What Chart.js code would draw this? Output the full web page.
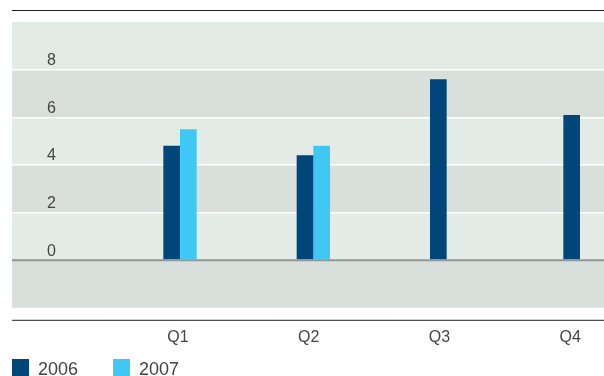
<!DOCTYPE html>
<html>
<head>
<meta charset="utf-8">
<script src="https://cdn.jsdelivr.net/npm/chart.js@4.4.1/dist/chart.umd.min.js"></script>
<style>
  body { margin: 0; background: #fff; font-family: 'Liberation Sans', Arial, sans-serif; }
  #wrap { position: relative; width: 604px; height: 376px; }
  #chart { display: block; }
  #legend { position: absolute; left: 12px; top: 359px; display: flex; }
  .item { display: flex; align-items: flex-start; width: 101px; }
  .swatch { width: 17px; height: 17px; }
  .label { margin-left: 9px; font-size: 18px; line-height: 17px; color: #444; position: relative; top: 2px; }
</style>
</head>
<body>
<div id="wrap">
  <canvas id="chart" width="604" height="376"></canvas>
  <div id="legend"></div>
</div>
<script>
// quarterly values per year
const quarters = ['Q1', 'Q2', 'Q3', 'Q4'];
const years = ['2006', '2007'];
const values2006 = [4.8, 4.4, 7.6, 6.1];
const values2007 = [5.5, 4.8, null, null];
const yTicks = [0, 2, 4, 6, 8];

const colors = ['#00467a', '#40c8f4'];
const LIGHT_BAND = '#e3ebe7';
const DARK_BAND = '#d9dfdb';
const TEXT = '#444';

const Y_MIN = -2, Y_MAX = 10, Y_STEP = 2;

Chart.defaults.font.family = "'Liberation Sans', Arial, sans-serif";
Chart.defaults.color = TEXT;

const toPoints = vals => vals.map((v, i) => ({ x: i + 1, y: v }));
const quarterTicks = scale => {
    scale.ticks = quarters.map((q, i) => ({ value: i + 1 }));
};

// striped background + rules above/below the plot
const backdrop = {
    id: 'backdrop',
    beforeDraw(chart) {
        const { ctx, chartArea: { left, right, top, bottom }, scales: { y } } = chart;
        ctx.save();
        for (let v = Y_MIN, i = 0; v < Y_MAX; v += Y_STEP, i++) {
            const y0 = y.getPixelForValue(v + Y_STEP);
            const y1 = y.getPixelForValue(v);
            ctx.fillStyle = i % 2 === 0 ? DARK_BAND : LIGHT_BAND;
            ctx.fillRect(left, y0, right - left, y1 - y0);
        }
        ctx.strokeStyle = '#222';
        ctx.lineWidth = 1;
        ctx.beginPath();
        ctx.moveTo(left, top - 11.5); ctx.lineTo(right, top - 11.5);
        ctx.moveTo(left, bottom + 12.5); ctx.lineTo(right, bottom + 12.5);
        ctx.stroke();
        ctx.restore();
    },
    afterDatasetsDraw(chart) {
        // zero line sits on top of the bars
        const { ctx, chartArea: { left, right }, scales: { y } } = chart;
        const py = y.getPixelForValue(0);
        ctx.save();
        ctx.strokeStyle = '#939796';
        ctx.lineWidth = 2;
        ctx.beginPath();
        ctx.moveTo(left, py); ctx.lineTo(right, py);
        ctx.stroke();
        ctx.restore();
    }
};

new Chart(document.getElementById('chart'), {
    type: 'bar',
    data: {
        datasets: [
            { label: years[0], data: toPoints(values2006), backgroundColor: colors[0], xAxisID: 'x', yAxisID: 'y' },
            { label: years[1], data: toPoints(values2007), backgroundColor: colors[1], xAxisID: 'x', yAxisID: 'y' }
        ]
    },
    options: {
        responsive: false,
        animation: false,
        layout: { padding: { top: 22, left: 0, right: 0, bottom: 9 } },
        datasets: {
            bar: { barPercentage: 1, categoryPercentage: 0.25, borderWidth: 0 }
        },
        plugins: {
            legend: { display: false },
            tooltip: { enabled: false }
        },
        scales: {
            // positions the bars
            x: {
                type: 'linear',
                display: false,
                offset: false,
                min: -0.26,
                max: 4.18,
                afterBuildTicks: quarterTicks
            },
            // quarter labels under the plot
            xq: {
                type: 'linear',
                position: 'bottom',
                offset: false,
                min: -0.268,
                max: 4.258,
                afterBuildTicks: quarterTicks,
                grid: { display: false, drawTicks: false, offset: false },
                border: { display: false },
                ticks: {
                    autoSkip: false,
                    maxRotation: 0,
                    padding: 20,
                    color: TEXT,
                    font: { size: 16 },
                    callback: (v, i) => quarters[i]
                }
            },
            y: {
                min: Y_MIN,
                max: Y_MAX,
                afterFit: scale => {
                    // labels sit inside the plot, so the axis only needs a thin strip
                    scale.width = 12;
                    scale.paddingTop = 0;
                    scale.paddingBottom = 0;
                },
                afterBuildTicks: scale => {
                    const vals = [Y_MIN, ...yTicks, Y_MAX];
                    scale.ticks = vals.map(v => ({ value: v }));
                },
                grid: {
                    drawTicks: false,
                    lineWidth: 1.5,
                    color: ctx => (ctx.tick && ctx.tick.value > 0 && ctx.tick.value < Y_MAX) ? '#ffffff' : 'rgba(0,0,0,0)'
                },
                border: { display: false },
                ticks: {
                    mirror: true,
                    padding: 35,
                    labelOffset: -9,
                    color: TEXT,
                    font: { size: 16 },
                    callback: v => yTicks.includes(v) ? String(v) : ''
                }
            }
        }
    },
    plugins: [backdrop]
});

// legend below the chart
const legend = document.getElementById('legend');
years.forEach((yr, i) => {
    const item = document.createElement('div');
    item.className = 'item';
    item.innerHTML = `<div class="swatch" style="background:${colors[i]}"></div><span class="label">${yr}</span>`;
    legend.appendChild(item);
});
</script>
</body>
</html>
